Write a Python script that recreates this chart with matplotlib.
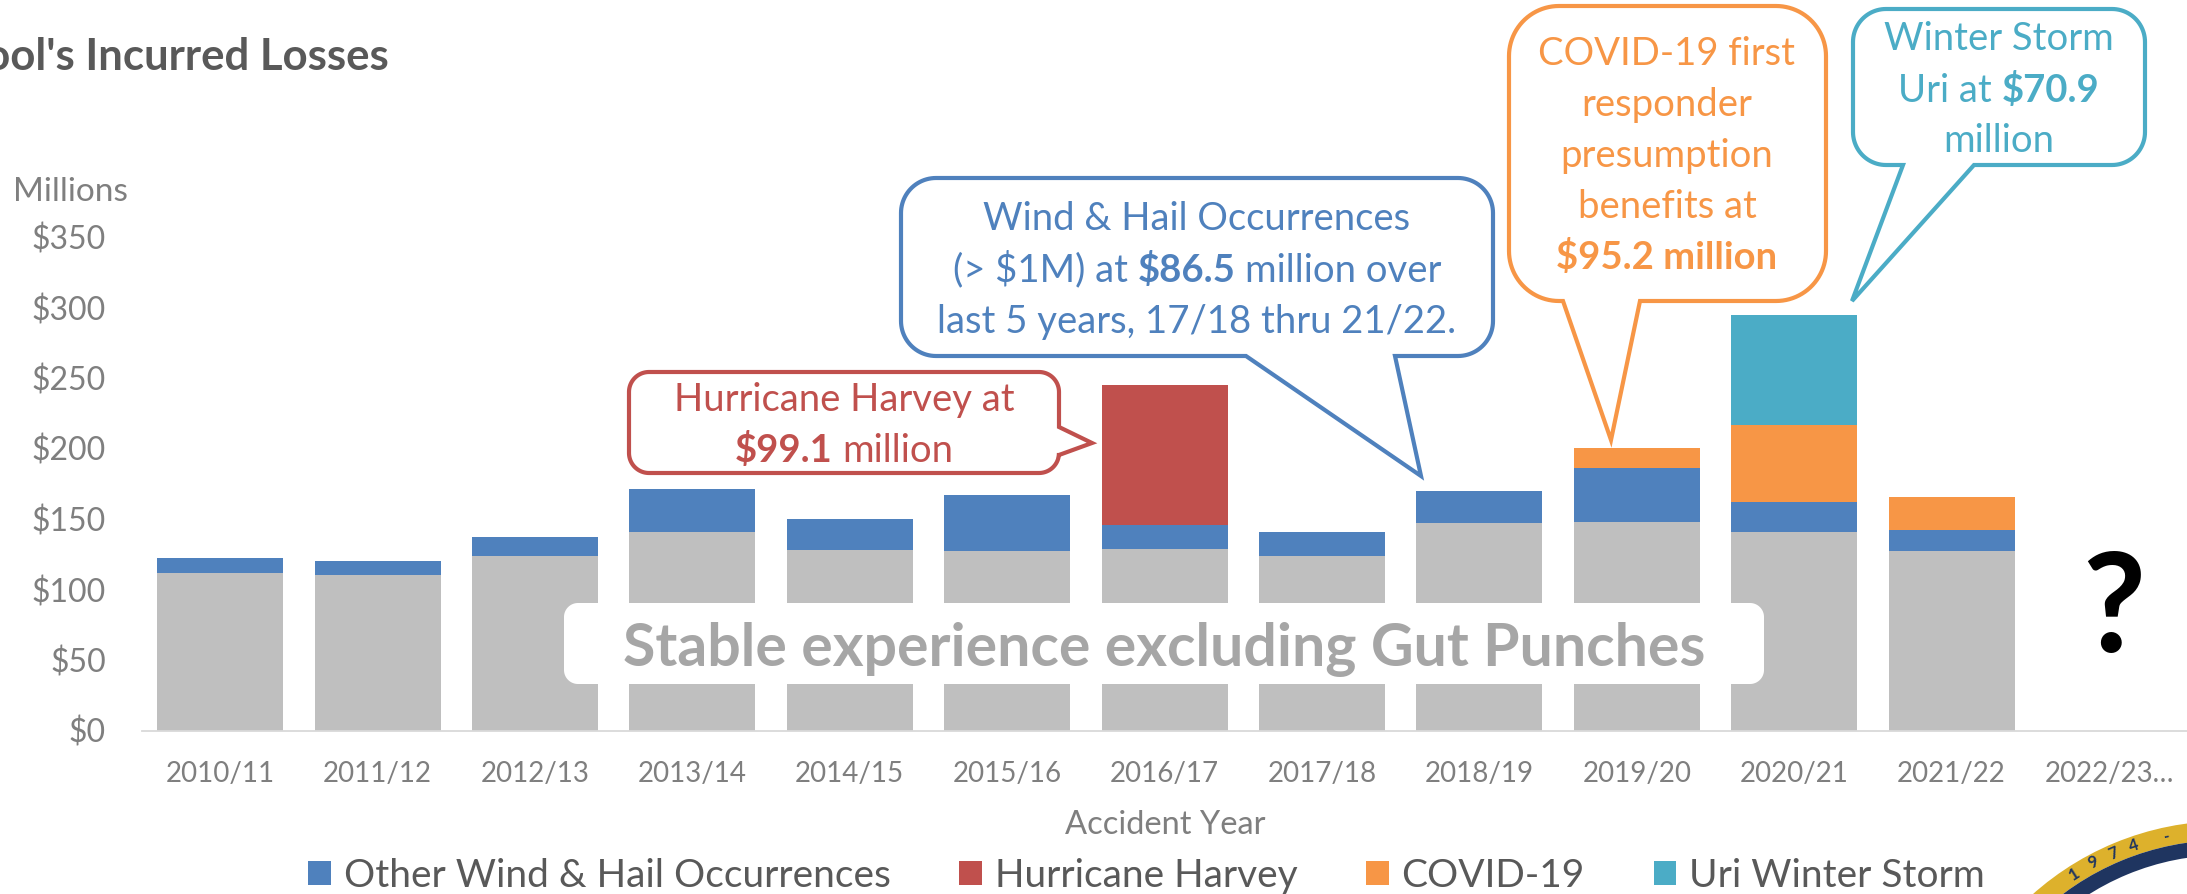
import numpy as np
import matplotlib
matplotlib.use("Agg")
import matplotlib.pyplot as plt
from matplotlib.patches import Polygon, Wedge
from matplotlib.ticker import FuncFormatter

# ---------------- data ----------------
categories = ["2010/11", "2011/12", "2012/13", "2013/14", "2014/15", "2015/16", "2016/17",
              "2017/18", "2018/19", "2019/20", "2020/21", "2021/22", "2022/23…"]
base_losses = [112, 110, 124, 141, 128, 127, 129, 124, 147, 148, 141, 127, 0]
wind_hail   = [10, 10, 13, 30, 22, 40, 17, 17, 23, 38, 21, 15, 0]
harvey      = [0, 0, 0, 0, 0, 0, 99, 0, 0, 0, 0, 0, 0]
covid       = [0, 0, 0, 0, 0, 0, 0, 0, 0, 14.5, 55, 23.5, 0]
uri         = [0, 0, 0, 0, 0, 0, 0, 0, 0, 0, 78, 0, 0]
series_labels = ["Other Wind & Hail Occurrences", "Hurricane Harvey", "COVID-19", "Uri Winter Storm"]
y_ticks = [0, 50, 100, 150, 200, 250, 300, 350]

GRAY, BLUE, RED, ORANGE, TEAL = "#BFBFBF", "#4F81BD", "#C0504D", "#F79646", "#4BACC6"
TXT = "#7F7F7F"

plt.rcParams["font.family"] = ["Lato", "DejaVu Sans"]

W, H = 2187, 894
fig = plt.figure(figsize=(W / 100, H / 100), dpi=100)

# main axes: x=-0.5 at px 141.5, 157.4 px per category; y=0 at px 730.5, 1.41 px per $M
ax = fig.add_axes([141.5 / W, (H - 730.5) / H, 13 * 157.4 / W, 730.5 / H])
x = np.arange(len(categories))
bw = 0.8
b0 = np.array(base_losses, float)
b1 = b0 + np.array(wind_hail)
b2 = b1 + np.array(harvey)
b3 = b2 + np.array(covid)
ax.bar(x, base_losses, bw, color=GRAY, zorder=2)
h_wind = ax.bar(x, wind_hail, bw, bottom=b0, color=BLUE, zorder=2)
h_harv = ax.bar(x, harvey, bw, bottom=b1, color=RED, zorder=2)
h_cov = ax.bar(x, covid, bw, bottom=b2, color=ORANGE, zorder=2)
h_uri = ax.bar(x, uri, bw, bottom=b3, color=TEAL, zorder=2)

ax.set_xlim(-0.5, 12.5)
ax.set_ylim(0, 730.5 / 1.41)
ax.set_yticks(y_ticks)
ax.yaxis.set_major_formatter(FuncFormatter(lambda v, p: f"${v:.0f}"))
ax.set_xticks(x)
ax.set_xticklabels(categories)
for s in ["top", "right", "left"]:
    ax.spines[s].set_visible(False)
ax.spines["bottom"].set_color("#D9D9D9")
ax.spines["bottom"].set_linewidth(1.3)
ax.tick_params(axis="y", length=0, pad=25.5, labelsize=23, labelcolor=TXT)
ax.tick_params(axis="x", length=0, pad=22, labelsize=20, labelcolor=TXT)
ax.set_facecolor("none")

# text outside axes
fig.text(1165 / W, (H - 833.5) / H, "Accident Year", ha="center", va="baseline", fontsize=23.5, color=TXT)
fig.text(13.5 / W, (H - 201) / H, "Millions", ha="left", va="baseline", fontsize=24, color=TXT)
fig.text(389 / W, (H - 70) / H, "Pool's Incurred Losses", ha="right", va="baseline",
         fontsize=31.5, fontweight="bold", color="#595959")

fig.legend([h_wind, h_harv, h_cov, h_uri], series_labels, loc="center",
           bbox_to_anchor=(1146.5 / W, (H - 876) / H), ncol=4, frameon=False, fontsize=28,
           handlelength=0.58, handleheight=0.58, handletextpad=0.33, columnspacing=1.77,
           labelcolor="#595959")

# ---------------- overlay in pixel coordinates ----------------
ov = fig.add_axes([0, 0, 1, 1])
ov.set_xlim(0, W)
ov.set_ylim(H, 0)
ov.axis("off")
ov.set_zorder(5)
renderer = fig.canvas.get_renderer()


def callout(x0, y0, x1, y1, r, side, a, b, tip, color, lw=3.0):
    def arc(cx, cy, t0, t1):
        ts = np.radians(np.linspace(t0, t1, 24))
        return [(cx + r * np.cos(t), cy + r * np.sin(t)) for t in ts]
    pts = []
    pts += arc(x1 - r, y0 + r, -90, 0)
    if side == "right":
        pts += [(x1, a), tip, (x1, b)]
    pts += arc(x1 - r, y1 - r, 0, 90)
    if side == "bottom":
        pts += [(b, y1), tip, (a, y1)]
    pts += arc(x0 + r, y1 - r, 90, 180)
    pts += arc(x0 + r, y0 + r, 180, 270)
    ov.add_patch(Polygon(pts, closed=True, facecolor="white",
                         edgecolor=color if color else "none", lw=lw, joinstyle="miter"))


def width_of(txt, size, bold):
    t = ov.text(0, 0, txt, fontsize=size, fontweight="bold" if bold else "normal")
    w = t.get_window_extent(renderer).width
    t.remove()
    return w


def line(cx, base, segs, color, size):
    parts = []
    total = 0.0
    for txt, bold in segs:
        sp = width_of("n n", size, bold) - width_of("nn", size, bold)
        lead = len(txt) - len(txt.lstrip(" "))
        trail = len(txt) - len(txt.rstrip(" "))
        core = txt.strip(" ")
        w = width_of(core, size, bold)
        parts.append((core, bold, lead * sp, w, trail * sp))
        total += lead * sp + w + trail * sp
    xx = cx - total / 2
    for core, bold, l, w, t in parts:
        xx += l
        ov.text(xx, base, core, ha="left", va="baseline", fontsize=size, color=color,
                fontweight="bold" if bold else "normal")
        xx += w + t


CS = 27.5
# Hurricane Harvey
callout(629, 372, 1059, 473, 20, "right", 427, 455, (1092, 443), RED)
line(844, 411.5, [("Hurricane Harvey at", False)], RED, CS)
line(844, 462.5, [("$99.1", True), (" million", False)], RED, CS)

# Wind & Hail
callout(901, 178, 1493, 356, 35, "bottom", 1246, 1395, (1421, 476), BLUE)
line(1197, 230.5, [("Wind & Hail Occurrences", False)], BLUE, CS)
line(1197, 281.5, [("(> $1M) at ", False), ("$86.5", True), (" million over", False)], BLUE, CS)
line(1197, 332.5, [("last 5 years, 17/18 thru 21/22.", False)], BLUE, CS)

# COVID-19
callout(1509, 6, 1826, 301, 50, "bottom", 1563, 1640, (1611, 440), ORANGE)
for i, segs in enumerate([[("COVID-19 first", False)], [("responder", False)], [("presumption", False)],
                          [("benefits at", False)], [("$95.2 million", True)]]):
    line(1667, 65 + 51 * i, segs, ORANGE, CS)

# Winter Storm Uri
callout(1853, 9, 2145, 165, 33, "bottom", 1903, 1974, (1852, 301), TEAL)
line(1999, 50.5, [("Winter Storm", False)], TEAL, CS)
line(1999, 101.5, [("Uri at ", False), ("$70.9", True)], TEAL, CS)
line(1999, 152.0, [("million", False)], TEAL, CS)

# Stable experience box
callout(564, 603, 1764, 684, 14, None, 0, 0, None, None, lw=0)
line(1164, 666, [("Stable experience excluding Gut Punches", True)], "#A6A6A6", 42.5)

# question mark
ov.text(2114, 652, "?", ha="center", va="baseline", fontsize=99, fontweight="bold", color="black")

# seal in the corner
cxs, cys = 2225, 1110
ov.add_patch(Wedge((cxs, cys), 289, 0, 360, width=19, facecolor="#DDB12C", edgecolor="none"))
ov.add_patch(Wedge((cxs, cys), 270, 0, 360, width=15, facecolor="#1F3560", edgecolor="none"))
for ch, phi in zip(["1", "9", "7", "4", "-"], [122.5, 118.0, 113.5, 109.0, 102.0]):
    pr = np.radians(phi)
    ov.text(cxs + 280 * np.cos(pr), cys - 280 * np.sin(pr), ch, ha="center", va="center",
            rotation=phi - 90, rotation_mode="anchor", fontsize=12, fontweight="bold", color="#1F3560")

fig.savefig("out.png", dpi=100)
